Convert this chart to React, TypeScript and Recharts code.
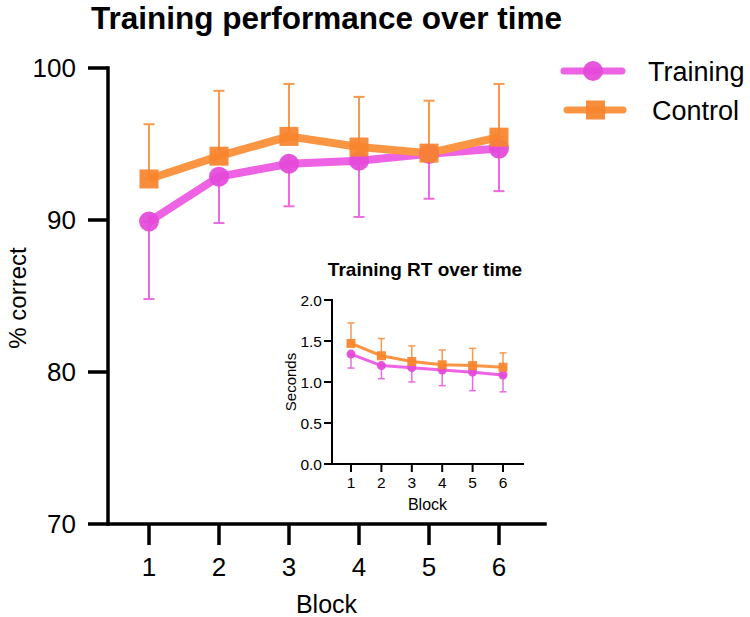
import React from 'react';
import { LineChart, Line, XAxis, YAxis, ErrorBar } from 'recharts';

// ---------- data ----------
const blocks = [1, 2, 3, 4, 5, 6];

// main chart: % correct
const trainingMean = [89.9, 92.85, 93.7, 93.9, 94.35, 94.7];
const trainingLower = [84.8, 89.8, 90.9, 90.2, 91.4, 91.9];
const controlMean = [92.7, 94.2, 95.5, 94.8, 94.4, 95.45];
const controlUpper = [96.3, 98.5, 98.95, 98.1, 97.85, 98.95];
const mainYTicks = [70, 80, 90, 100];

// inset: reaction time (seconds)
const rtTrainingMean = [1.34, 1.2, 1.175, 1.145, 1.12, 1.085];
const rtTrainingLower = [1.17, 1.04, 1.0, 0.955, 0.895, 0.88];
const rtControlMean = [1.47, 1.32, 1.25, 1.21, 1.2, 1.18];
const rtControlUpper = [1.72, 1.53, 1.44, 1.39, 1.41, 1.355];
const insetYTicks = [0, 0.5, 1, 1.5, 2];

const seriesNames = ['Training', 'Control'];

// ---------- styles ----------
const FONT = '"Liberation Sans", Arial, Helvetica, sans-serif';
const MAGENTA_LINE = '#EE62E4';
const MAGENTA_DOT = '#E448D9';
const MAGENTA_ERR = '#EC6BE2';
const ORANGE_LINE = '#FA9544';
const ORANGE_DOT = '#F7842D';
const ORANGE_ERR = '#F7994F';

const mainData = blocks.map((b, i) => ({
  block: b,
  training: trainingMean[i],
  trainingErr: [trainingMean[i] - trainingLower[i], 0],
  control: controlMean[i],
  controlErr: [0, controlUpper[i] - controlMean[i]],
}));

const insetData = blocks.map((b, i) => ({
  block: b,
  training: rtTrainingMean[i],
  trainingErr: [rtTrainingMean[i] - rtTrainingLower[i], 0],
  control: rtControlMean[i],
  controlErr: [0, rtControlUpper[i] - rtControlMean[i]],
}));

const circleDot = (r: number, fill: string) => (props: any) => {
  const { cx, cy, index } = props;
  if (cx == null || cy == null) return <g key={`c-${index}`} />;
  return <circle key={`c-${index}`} cx={cx} cy={cy} r={r} fill={fill} fillOpacity={0.92} />;
};

const squareDot = (s: number, fill: string) => (props: any) => {
  const { cx, cy, index } = props;
  if (cx == null || cy == null) return <g key={`s-${index}`} />;
  return <rect key={`s-${index}`} x={cx - s / 2} y={cy - s / 2} width={s} height={s} fill={fill} fillOpacity={0.92} />;
};

export default function App() {
  const mainAxisLine = { stroke: '#000', strokeWidth: 3.5, strokeLinecap: 'square' as const };
  const mainTickLine = { stroke: '#000', strokeWidth: 3.5 };
  const mainTick = { fill: '#000', fontSize: 26, fontFamily: FONT };
  const insetAxisLine = { stroke: '#000', strokeWidth: 2, strokeLinecap: 'square' as const };
  const insetTickLine = { stroke: '#000', strokeWidth: 2 };
  const insetTick = { fill: '#000', fontSize: 15.5, fontFamily: FONT };

  return (
    <div style={{ position: 'absolute', left: 0, top: 0, width: 750, height: 617, background: '#fff', fontFamily: FONT }}>
      {/* main chart */}
      <div style={{ position: 'absolute', left: 0, top: 0 }}>
        <LineChart width={750} height={617} data={mainData} margin={{ top: 68, right: 205, bottom: 0, left: 0 }}>
          <XAxis
            dataKey="block"
            type="number"
            domain={[1, 6]}
            ticks={blocks}
            interval={0}
            padding={{ left: 41, right: 46 }}
            height={93}
            tickSize={21}
            tickMargin={13}
            axisLine={mainAxisLine}
            tickLine={mainTickLine}
            tick={mainTick}
          />
          <YAxis
            type="number"
            domain={[70, 100]}
            ticks={mainYTicks}
            interval={0}
            width={108}
            tickSize={20}
            tickMargin={12}
            axisLine={mainAxisLine}
            tickLine={mainTickLine}
            tick={mainTick}
          />
          <Line
            dataKey="training"
            name={seriesNames[0]}
            stroke={MAGENTA_LINE}
            strokeWidth={8}
            strokeLinejoin="round"
            dot={circleDot(10, MAGENTA_DOT)}
            activeDot={false}
            isAnimationActive={false}
          >
            <ErrorBar dataKey="trainingErr" direction="y" width={5.5} strokeWidth={2} stroke={MAGENTA_ERR} />
          </Line>
          <Line
            dataKey="control"
            name={seriesNames[1]}
            stroke={ORANGE_LINE}
            strokeWidth={8}
            strokeLinejoin="round"
            dot={squareDot(19, ORANGE_DOT)}
            activeDot={false}
            isAnimationActive={false}
          >
            <ErrorBar dataKey="controlErr" direction="y" width={5.5} strokeWidth={2} stroke={ORANGE_ERR} />
          </Line>
        </LineChart>
      </div>

      {/* inset chart */}
      <div style={{ position: 'absolute', left: 250, top: 250 }}>
        <LineChart width={300} height={270} data={insetData} margin={{ top: 50, right: 27, bottom: 0, left: 0 }}>
          <XAxis
            dataKey="block"
            type="number"
            domain={[1, 6]}
            ticks={blocks}
            interval={0}
            padding={{ left: 19, right: 20 }}
            height={56}
            tickSize={8}
            tickMargin={5}
            axisLine={insetAxisLine}
            tickLine={insetTickLine}
            tick={insetTick}
          />
          <YAxis
            type="number"
            domain={[0, 2]}
            ticks={insetYTicks}
            interval={0}
            width={82}
            tickSize={8}
            tickMargin={2}
            tickFormatter={(v: number) => v.toFixed(1)}
            axisLine={insetAxisLine}
            tickLine={insetTickLine}
            tick={insetTick}
          />
          <Line
            dataKey="training"
            name={seriesNames[0]}
            stroke={MAGENTA_LINE}
            strokeWidth={3}
            strokeLinejoin="round"
            dot={circleDot(4.5, MAGENTA_DOT)}
            activeDot={false}
            isAnimationActive={false}
          >
            <ErrorBar dataKey="trainingErr" direction="y" width={3.5} strokeWidth={1.5} stroke={MAGENTA_ERR} />
          </Line>
          <Line
            dataKey="control"
            name={seriesNames[1]}
            stroke={ORANGE_LINE}
            strokeWidth={3}
            strokeLinejoin="round"
            dot={squareDot(9, ORANGE_DOT)}
            activeDot={false}
            isAnimationActive={false}
          >
            <ErrorBar dataKey="controlErr" direction="y" width={3.5} strokeWidth={1.5} stroke={ORANGE_ERR} />
          </Line>
        </LineChart>
      </div>

      {/* titles, axis labels, legend */}
      <svg
        width={750}
        height={617}
        style={{ position: 'absolute', left: 0, top: 0, pointerEvents: 'none' }}
        fontFamily={FONT}
      >
        <text x={326.5} y={29} textAnchor="middle" fontSize={31.5} fontWeight="bold" fill="#000">
          Training performance over time
        </text>
        <text x={326.5} y={613} textAnchor="middle" fontSize={25} fill="#000">
          Block
        </text>
        <text x={26} y={298} textAnchor="middle" fontSize={24} fill="#000" transform="rotate(-90 26 298)">
          % correct
        </text>

        {/* inset labels */}
        <text x={425} y={276} textAnchor="middle" fontSize={19} fontWeight="bold" fill="#000">
          Training RT over time
        </text>
        <text x={427.5} y={510} textAnchor="middle" fontSize={16} fill="#000">
          Block
        </text>
        <text x={296} y={382} textAnchor="middle" fontSize={15} fill="#000" transform="rotate(-90 296 382)">
          Seconds
        </text>

        {/* legend */}
        <line x1={564} y1={71} x2={622} y2={71} stroke={MAGENTA_LINE} strokeWidth={7} strokeLinecap="round" />
        <circle cx={593} cy={71} r={10} fill={MAGENTA_DOT} fillOpacity={0.92} />
        <text x={648} y={80.5} fontSize={27} fill="#000">
          {seriesNames[0]}
        </text>
        <line x1={567} y1={110} x2={623} y2={110} stroke={ORANGE_LINE} strokeWidth={7} strokeLinecap="round" />
        <rect x={586} y={100.5} width={19} height={19} fill={ORANGE_DOT} fillOpacity={0.92} />
        <text x={652} y={119.5} fontSize={27} fill="#000">
          {seriesNames[1]}
        </text>
      </svg>
    </div>
  );
}
